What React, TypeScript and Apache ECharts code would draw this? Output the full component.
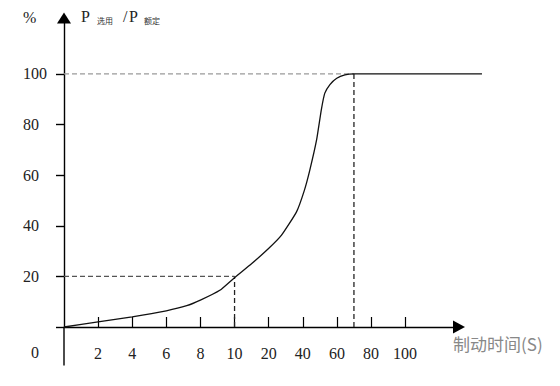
import React, { useEffect, useRef } from 'react';
import * as echarts from 'echarts';

// x axis is drawn on evenly spaced tick positions; index k carries label xLabels[k]
const xLabels = ['0', '2', '4', '6', '8', '10', '20', '40', '60', '80', '100'];
const xTickIdx = [1, 2, 3, 4, 5, 6, 7, 8, 9, 10];
const yTicks = [0, 20, 40, 60, 80, 100];

// curve P选用/P额定 (%) against tick-index position
const curveX = [0, 1, 2, 3, 3.6, 4, 4.57, 5, 5.5, 6, 6.38, 6.82, 7.05, 7.21, 7.41, 7.55, 7.65, 7.8, 8, 8.24, 8.5, 12.26];
const curveY = [0, 2.0, 4.0, 6.4, 8.4, 10.6, 14.5, 19.5, 25, 31, 36.3, 45.5, 54, 62, 74, 86, 92.4, 95.8, 98.3, 99.6, 100, 100];

// guide lines
const guide100X = [0, 8.5];
const guide100Y = [100, 100];
const guide20X = [0, 5];
const guide20Y = [20, 20];
const vert10X = [5, 5];
const vert10Y = [0, 20];
const vert70X = [8.5, 8.5];
const vert70Y = [0, 100];
// downward extension of the y axis below the origin
const yExtX = [0, 0];
const yExtY = [0, -15.2];

const zip = (xs: number[], ys: number[]) => xs.map((x, i) => [x, ys[i]]);

const SERIF = '"Liberation Serif", "Times New Roman", serif';
const CJK = '"Noto Sans CJK SC", sans-serif';

export default function App() {
  const ref = useRef<HTMLDivElement>(null);
  useEffect(() => {
    const chart = echarts.init(ref.current!, null, { renderer: 'svg' });
    const dashed = (data: number[][], color: string) => ({
      type: 'line',
      data,
      showSymbol: false,
      silent: true,
      lineStyle: { color, width: 1.3, type: [5, 3] },
    });
    const hiddenAxis = { show: false, splitLine: { show: false } };
    chart.setOption({
      animation: false,
      backgroundColor: '#fff',
      grid: [
        { left: 64, right: 101, top: 18, bottom: 59, containLabel: false, outerBoundsMode: 'none' },
        // same scale, wider to the right so the 100% plateau runs past the arrow
        { left: 64, right: 77, top: 18, bottom: 59, containLabel: false, outerBoundsMode: 'none' },
      ],
      xAxis: [
        {
          type: 'value',
          gridIndex: 0,
          min: 0,
          max: 11.58,
          splitLine: { show: false },
          axisLine: {
            onZero: false,
            symbol: ['none', 'triangle'],
            symbolSize: [13, 12],
            lineStyle: { color: '#000', width: 1.4 },
          },
          axisTick: { inside: true, length: 10, customValues: xTickIdx, lineStyle: { color: '#000', width: 1.2 } },
          axisLabel: {
            customValues: xTickIdx,
            formatter: (v: number) => xLabels[Math.round(v)],
            margin: 18,
            fontFamily: SERIF,
            fontSize: 16,
            color: '#222',
          },
        },
        { type: 'value', gridIndex: 1, min: 0, max: 12.29, ...hiddenAxis },
      ],
      yAxis: [
        {
          type: 'value',
          gridIndex: 0,
          min: 0,
          max: 122.1,
          splitLine: { show: false },
          axisLine: {
            onZero: false,
            symbol: ['none', 'triangle'],
            symbolSize: [14, 11],
            lineStyle: { color: '#000', width: 1.4 },
          },
          axisTick: { inside: false, length: 8, customValues: yTicks, lineStyle: { color: '#000', width: 1.4 } },
          axisLabel: {
            customValues: yTicks,
            formatter: (v: number) => (v === 0 ? '' : String(v)),
            align: 'left',
            margin: 41,
            fontFamily: SERIF,
            fontSize: 16,
            color: '#222',
          },
        },
        { type: 'value', gridIndex: 1, min: 0, max: 122.1, ...hiddenAxis },
      ],
      series: [
        {
          type: 'line',
          data: zip(yExtX, yExtY),
          showSymbol: false,
          clip: false,
          silent: true,
          lineStyle: { color: '#000', width: 1.4 },
        },
        dashed(zip(guide100X, guide100Y), '#9a9a9a'),
        dashed(zip(guide20X, guide20Y), '#555'),
        dashed(zip(vert10X, vert10Y), '#222'),
        dashed(zip(vert70X, vert70Y), '#222'),
        {
          type: 'line',
          xAxisIndex: 1,
          yAxisIndex: 1,
          data: zip(curveX, curveY),
          showSymbol: false,
          clip: false,
          smooth: 0.15,
          lineStyle: { color: '#111', width: 1.3 },
        },
      ],
      graphic: [
        { type: 'text', left: 23, top: 9, style: { text: '%', font: `16px ${SERIF}`, fill: '#222' } },
        { type: 'text', left: 81, top: 8, style: { text: 'P', font: `16px ${SERIF}`, fill: '#222' } },
        { type: 'text', left: 97, top: 16, style: { text: '选用', font: `8px ${CJK}`, fill: '#333' } },
        { type: 'text', left: 123, top: 8, style: { text: '/', font: `16px ${SERIF}`, fill: '#222' } },
        { type: 'text', left: 129, top: 8, style: { text: 'P', font: `16px ${SERIF}`, fill: '#222' } },
        { type: 'text', left: 144, top: 16, style: { text: '额定', font: `8px ${CJK}`, fill: '#333' } },
        { type: 'text', left: 31, top: 344, style: { text: '0', font: `16px ${SERIF}`, fill: '#222' } },
        { type: 'text', left: 453, top: 335, style: { text: '制动时间(S)', font: `17px ${CJK}`, fill: '#888' } },
      ],
    });
    return () => chart.dispose();
  }, []);
  return (
    <div
      ref={ref}
      style={{ position: 'absolute', left: 0, top: 0, width: 560, height: 386, background: '#fff' }}
    />
  );
}
